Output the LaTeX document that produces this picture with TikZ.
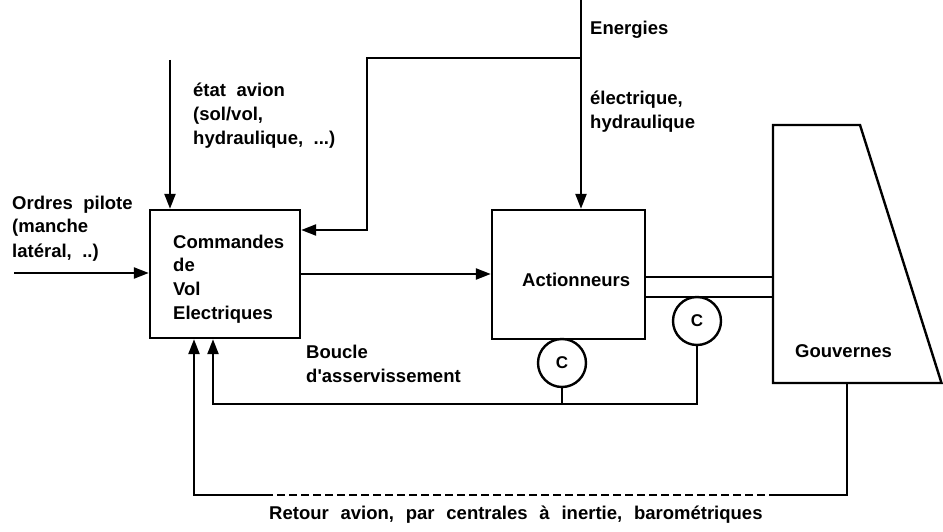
\documentclass[tikz,border=0pt]{standalone}
\usepackage{fontspec}
\setmainfont{Liberation Sans}
\usetikzlibrary{arrows.meta}
\newcommand\lblfont{\fontsize{18.5}{24}\selectfont\bfseries}
\newcommand\widespaces{\spaceskip 10.5pt\relax\xspaceskip 10.5pt\relax}
\newcommand\widerspaces{\spaceskip 11.8pt\relax\xspaceskip 11.8pt\relax}

\begin{document}
\begin{tikzpicture}[x=1pt,y=-1pt,
  wire/.style={line width=2.4pt},
  arr/.style={wire,-{Triangle[length=15pt,width=11pt]}},
  dashwire/.style={wire,dash pattern=on 8pt off 4pt},
  blockbox/.style={draw,line width=2.4pt,inner sep=0pt},
  cnode/.style={draw,circle,line width=2.4pt,minimum size=48pt,inner sep=0pt,
    font=\fontsize{17}{17}\selectfont\bfseries},
  lbl/.style={font=\lblfont,inner sep=0pt,align=left,anchor=base west,text width=260pt,
    execute at begin node=\widespaces}]
\useasboundingbox (0,0) rectangle (943,532);

% blocks
\node[blockbox,minimum width=150pt,minimum height=128pt] (fcs) at (225,274) {};
\node[blockbox,minimum width=153pt,minimum height=129pt] (act) at (568.5,274.5) {};
\node[lbl] (fcstext) at (173,248) {\baselineskip 23.5pt Commandes\\de\\Vol\\Electriques};
\node[lbl] (acttext) at (522,286) {Actionneurs};

% control surface
\coordinate (gtl) at (773,125);
\coordinate (gtr) at (860,125);
\coordinate (gbr) at (941.5,383);
\coordinate (gbl) at (773,383);
\draw[wire,line join=miter] (gtl) -- (gtr) -- (gbr) -- (gbl) -- cycle;
\node[lbl] (gouvtext) at (795,357) {Gouvernes};

% position sensors
\node[cnode] (c1) at (562,363) {C};
\node[cnode] (c2) at (697,321) {C};

% inputs
\coordinate (op) at (14,273);
\draw[arr] (op) -- (op -| fcs.west);
\node[lbl] (optext) at (12,209) {Ordres pilote\\(manche\\latéral, ..)};

\coordinate (etat) at (170,60);
\draw[arr] (etat) -- (etat |- fcs.north);
\node[lbl] (etattext) at (193,97) {état avion\\(sol/vol,\\hydraulique, ...)};

% energy supply
\coordinate (etop) at (581,0);
\coordinate (ejct) at (581,58);
\coordinate (ek1) at (367,58);
\coordinate (ek2) at (367,230);
\draw[arr] (etop) -- (etop |- act.north);
\draw[arr] (ejct) -- (ek1) -- (ek2) -- (ek2 -| fcs.east);
\node[lbl] (entext) at (590,35) {Energies};
\node[lbl] (entext2) at (590,105) {\baselineskip 18pt électrique,\\hydraulique};

% command path
\draw[arr] (fcs.east) -- (fcs.east -| act.west);

% actuator rods
\coordinate (bar1) at (773,277);
\coordinate (bar2) at (773,297);
\draw[wire] (act.east |- bar1) -- (bar1);
\draw[wire] (act.east |- bar2) -- (bar2);

% servo loop
\coordinate (loopL) at (213,404);
\draw[wire] (c1.south) -- (c1.south |- loopL);
\draw[arr] (c2.south) |- (loopL) -- (loopL |- fcs.south);
\node[lbl] (bouctext) at (306,358) {Boucle\\d\textquotesingle asservissement};

% aircraft feedback
\coordinate (gstub) at (847,383);
\coordinate (rR) at (777,495);
\coordinate (rL) at (267,495);
\coordinate (rC) at (194,495);
\draw[wire] (gstub) |- (rR);
\draw[dashwire] (rR) -- (rL);
\draw[arr] (rL) -- (rC) -- (rC |- fcs.south);
\node[lbl,text width=520pt,execute at begin node=\widerspaces] (rettext) at (269,519)
  {Retour avion, par centrales à inertie, barométriques};
\end{tikzpicture}
\end{document}
